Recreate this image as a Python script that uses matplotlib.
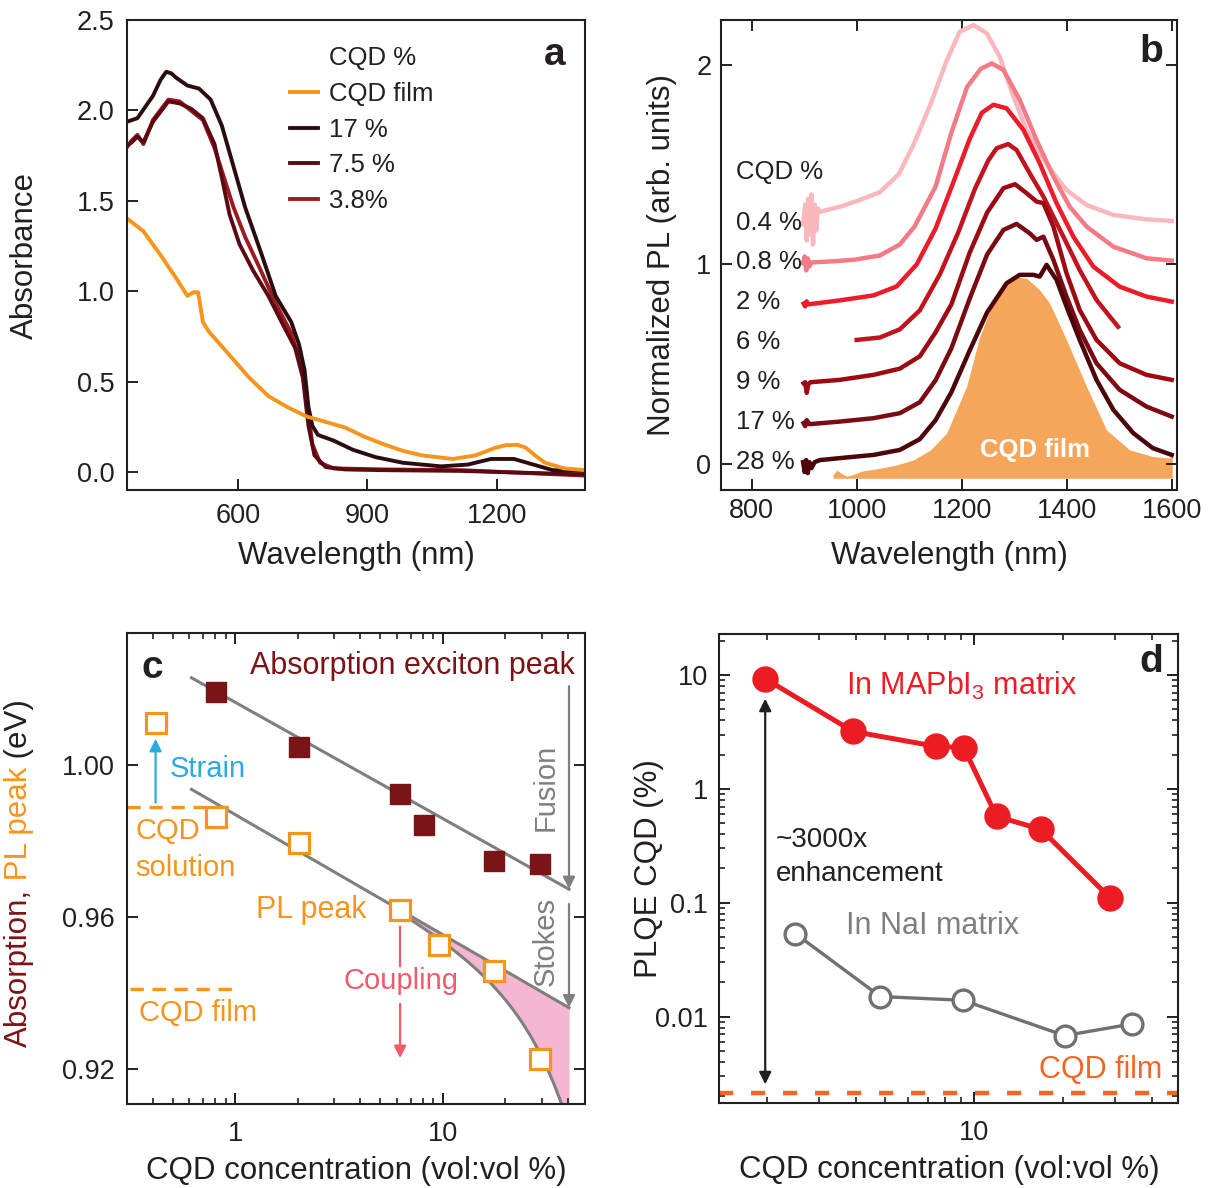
import numpy as np
import matplotlib.pyplot as plt
from matplotlib.lines import Line2D
from matplotlib.ticker import LogLocator, NullFormatter

plt.rcParams['font.family'] = ['Liberation Sans', 'DejaVu Sans']
plt.rcParams['mathtext.default'] = 'regular'

INK = '#231f20'
ORANGE = '#f7941d'
MAROON = '#7b1416'

# ---------------- (a) absorbance spectra ----------------
a_film_wl = [341, 380, 420, 455, 482, 496, 507, 518, 531, 580, 625, 670, 714, 759, 803, 848, 893,
             937, 982, 1026, 1098, 1151, 1196, 1220, 1248, 1267, 1290, 1312, 1356, 1405]
a_film = [1.404, 1.332, 1.199, 1.076, 0.974, 0.994, 0.994, 0.83, 0.779, 0.646, 0.523, 0.42, 0.359,
          0.307, 0.277, 0.246, 0.195, 0.154, 0.117, 0.092, 0.072, 0.092, 0.133, 0.148, 0.15, 0.135,
          0.09, 0.051, 0.020, 0.010]
a_17_wl = [341, 366, 402, 420, 433, 445, 455, 482, 509, 536, 562, 589, 616, 652, 687, 723, 741, 754,
           763, 772, 785, 821, 866, 919, 982, 1071, 1133, 1187, 1240, 1285, 1330, 1405]
a_17 = [1.937, 1.957, 2.08, 2.17, 2.214, 2.205, 2.183, 2.138, 2.121, 2.06, 1.916, 1.691, 1.465, 1.22,
        0.974, 0.83, 0.707, 0.564, 0.359, 0.256, 0.205, 0.174, 0.123, 0.082, 0.051, 0.031, 0.041,
        0.072, 0.072, 0.041, 0.010, 0.006]
a_75_wl = [341, 353, 366, 380, 402, 438, 464, 491, 518, 545, 562, 580, 603, 634, 670, 705, 732, 750,
           763, 777, 803, 848, 937, 1116, 1405]
a_75 = [1.804, 1.824, 1.855, 1.824, 1.937, 2.05, 2.039, 2.009, 1.957, 1.814, 1.629, 1.424, 1.26,
        1.117, 0.974, 0.81, 0.687, 0.523, 0.256, 0.092, 0.027, 0.014, 0.010, 0.006, -0.014]
a_38_wl = [341, 353, 366, 380, 402, 438, 464, 491, 518, 545, 567, 589, 616, 652, 687, 723, 745, 759,
           772, 790, 821, 937, 1116, 1405]
a_38 = [1.794, 1.834, 1.865, 1.814, 1.947, 2.06, 2.05, 1.998, 1.947, 1.793, 1.629, 1.465, 1.301,
        1.117, 0.933, 0.769, 0.605, 0.40, 0.154, 0.051, 0.020, 0.014, 0.010, -0.020]

# ---------------- (b) stacked PL spectra ----------------
b_labels = ['0.4 %', '0.8 %', '2 %', '6 %', '9 %', '17 %', '28 %']
b_offsets = [1.2, 1.0, 0.8, 0.6, 0.4, 0.2, 0.0]
b_colors = ['#f9b8bd', '#f27b86', '#ec1c2a', '#c0141f', '#9c0a14', '#7c0a12', '#4c0508']

pl_04_wl = [898, 902, 905, 908, 911, 914, 917, 920, 923, 926, 930, 968, 1006, 1044, 1080, 1108,
            1140, 1171, 1196, 1222, 1247, 1272, 1298, 1323, 1348, 1374, 1399, 1437, 1488, 1551, 1599]
pl_04 = [1.20, 1.30, 1.12, 1.33, 1.15, 1.35, 1.10, 1.30, 1.17, 1.28, 1.264, 1.289, 1.323, 1.362,
         1.452, 1.60, 1.80, 2.02, 2.166, 2.199, 2.158, 2.04, 1.84, 1.674, 1.557, 1.457, 1.373,
         1.298, 1.248, 1.226, 1.218]
pl_08_wl = [898, 901, 904, 907, 910, 914, 943, 994, 1044, 1082, 1110, 1150, 1180, 1210, 1236, 1257,
            1279, 1310, 1342, 1374, 1405, 1437, 1488, 1551, 1599]
pl_08 = [1.006, 1.04, 0.97, 1.03, 0.99, 1.01, 1.014, 1.023, 1.045, 1.10, 1.19, 1.39, 1.66, 1.89,
         1.98, 2.007, 1.974, 1.824, 1.623, 1.44, 1.289, 1.19, 1.089, 1.031, 1.019]
pl_2_wl = [899, 902, 905, 908, 968, 1032, 1076, 1114, 1150, 1185, 1215, 1238, 1260, 1285, 1317,
           1348, 1380, 1412, 1450, 1500, 1551, 1599]
pl_2 = [0.804, 0.79, 0.815, 0.80, 0.82, 0.845, 0.89, 1.0, 1.18, 1.42, 1.63, 1.76, 1.80, 1.782,
        1.674, 1.507, 1.307, 1.139, 0.989, 0.889, 0.839, 0.814]
pl_6_wl = [1000, 1044, 1082, 1120, 1158, 1193, 1225, 1250, 1266, 1288, 1304, 1329, 1355, 1393,
           1424, 1456, 1497]
pl_6 = [0.622, 0.634, 0.675, 0.77, 0.95, 1.16, 1.38, 1.52, 1.582, 1.603, 1.573, 1.457, 1.34, 1.139,
        0.972, 0.822, 0.688]
pl_9_wl = [899, 902, 905, 908, 912, 968, 1032, 1082, 1120, 1150, 1180, 1215, 1248, 1279, 1301,
           1323, 1342, 1355, 1374, 1399, 1424, 1456, 1500, 1551, 1599]
pl_9 = [0.405, 0.41, 0.357, 0.40, 0.41, 0.422, 0.447, 0.478, 0.54, 0.66, 0.80, 1.06, 1.26, 1.382,
        1.402, 1.357, 1.315, 1.307, 1.19, 0.956, 0.772, 0.622, 0.505, 0.447, 0.422]
pl_17_wl = [899, 902, 905, 910, 968, 1032, 1082, 1120, 1150, 1180, 1215, 1248, 1279, 1304, 1329,
            1342, 1355, 1374, 1399, 1424, 1456, 1500, 1551, 1599]
pl_17 = [0.205, 0.19, 0.22, 0.20, 0.213, 0.23, 0.255, 0.31, 0.42, 0.58, 0.83, 1.05, 1.173, 1.203,
         1.156, 1.123, 1.139, 1.023, 0.839, 0.672, 0.505, 0.372, 0.288, 0.238]
pl_28_wl = [898, 901, 904, 907, 910, 914, 920, 930, 968, 1032, 1082, 1120, 1150, 1180, 1215, 1248,
            1285, 1310, 1336, 1348, 1361, 1380, 1399, 1424, 1456, 1488, 1526, 1563, 1599]
pl_28 = [0.01, -0.04, 0.02, -0.045, 0.01, -0.02, 0.01, 0.02, 0.03, 0.046, 0.071, 0.125, 0.22, 0.36,
         0.57, 0.76, 0.906, 0.948, 0.948, 0.939, 0.998, 0.923, 0.789, 0.622, 0.422, 0.272, 0.155,
         0.08, 0.046]
b_series = [(pl_04_wl, pl_04), (pl_08_wl, pl_08), (pl_2_wl, pl_2), (pl_6_wl, pl_6),
            (pl_9_wl, pl_9), (pl_17_wl, pl_17), (pl_28_wl, pl_28)]

film_wl = [955, 962, 970, 980, 990, 1010, 1044, 1075, 1108, 1140, 1171, 1209, 1234, 1266, 1298,
           1323, 1348, 1367, 1399, 1437, 1475, 1519, 1563, 1595, 1600]
film_pl = [-0.054, -0.03, -0.045, -0.06, -0.055, -0.035, -0.021, -0.005, 0.021, 0.07, 0.155, 0.389,
           0.639, 0.856, 0.939, 0.931, 0.872, 0.806, 0.622, 0.389, 0.171, 0.071, 0.038, 0.03, 0.06]
film_base = -0.071

# ---------------- (c) peak energies ----------------
conc_abs = [0.81, 2.02, 6.22, 8.09, 17.7, 29.3]
e_abs = [1.0193, 1.0047, 0.9924, 0.9841, 0.9747, 0.9740]
conc_pl = [0.412, 0.81, 2.02, 6.22, 9.59, 17.7, 29.3]
e_pl = [1.0111, 0.9863, 0.9794, 0.9619, 0.9525, 0.9457, 0.9226]
abs_fit = (1.0165, -0.0306)      # E = a + b*log10(c)
pl_fit = (0.9869, -0.0316)
coupling_k = 1.9e-5              # extra red shift ~ k*c^2
fit_range = (0.614, 40.6)
e_solution = 0.9889
e_film = 0.9409

# ---------------- (d) PLQE ----------------
conc_mapi = [1.97, 3.9, 7.46, 9.22, 11.9, 16.8, 28.8]
plqe_mapi = [9.3, 3.2, 2.36, 2.31, 0.574, 0.442, 0.110]
conc_nai = [2.49, 4.82, 9.17, 20.2, 34.0]
plqe_nai = [0.0536, 0.0150, 0.0139, 0.0068, 0.0086]
plqe_film = 0.00213

fig = plt.figure(figsize=(12.11, 11.88), dpi=100)
ax_a = fig.add_axes([0.1049, 0.5875, 0.3782, 0.3956])
ax_b = fig.add_axes([0.5954, 0.5875, 0.3765, 0.3956])
ax_c = fig.add_axes([0.1049, 0.0707, 0.3785, 0.3965])
ax_d = fig.add_axes([0.5940, 0.0713, 0.3790, 0.3950])

for ax in (ax_a, ax_b, ax_c, ax_d):
    for sp in ax.spines.values():
        sp.set_linewidth(1.5)
        sp.set_color(INK)
    ax.tick_params(which='major', direction='in', length=8, width=1.4, labelsize=19.5,
                   colors=INK, pad=9)
    ax.tick_params(which='minor', direction='in', length=4.5, width=1.2, colors=INK)

# ---- a ----
ax_a.plot(a_38_wl, a_38, color='#9b1b20', lw=2.8, label='3.8%')
ax_a.plot(a_75_wl, a_75, color='#5c0a12', lw=2.8, label='7.5 %')
ax_a.plot(a_17_wl, a_17, color='#2b0c0f', lw=2.8, label='17 %')
ax_a.plot(a_film_wl, a_film, color=ORANGE, lw=2.8, label='CQD film')
ax_a.set_xlim(342, 1405)
ax_a.set_ylim(-0.1, 2.5)
ax_a.set_xticks([600, 900, 1200])
ax_a.set_yticks(np.arange(0, 2.51, 0.5))
ax_a.yaxis.set_major_formatter(plt.FormatStrFormatter('%.1f'))
ax_a.set_xlabel('Wavelength (nm)', fontsize=22.5, color=INK)
ax_a.set_ylabel('Absorbance', fontsize=22.5, color=INK)
ax_a.xaxis.set_label_coords(0.5, -0.14)
ax_a.yaxis.set_label_coords(-0.223, 0.5)
hl = {l.get_label(): l for l in ax_a.get_lines()}
handles = [Line2D([], [], color='none')] + [hl[k] for k in ['CQD film', '17 %', '7.5 %', '3.8%']]
labels = ['CQD %', 'CQD film', '17 %', '7.5 %', '3.8%']
ax_a.legend(handles, labels, loc='upper left', bbox_to_anchor=(0.355, 0.944), frameon=False,
            fontsize=18.5, handlelength=1.1, handletextpad=0.45, labelspacing=0.45,
            borderpad=0, borderaxespad=0, labelcolor=INK)
ax_a.text(0.934, 0.926, 'a', transform=ax_a.transAxes, fontsize=28, fontweight='bold',
          ha='center', va='center', color=INK)

# ---- b ----
ax_b.fill_between(film_wl, film_base, film_pl, color='#f5a65b', lw=0, zorder=1)
for (wl, pl), col in zip(b_series, b_colors):
    ax_b.plot(wl, pl, color=col, lw=3.2, zorder=2, solid_joinstyle='round')
for lab, off in zip(b_labels, b_offsets):
    ax_b.text(770, off + 0.01, lab, fontsize=18.5, color=INK, ha='left', va='center')
ax_b.text(770, 1.462, 'CQD %', fontsize=18.5, color=INK, ha='left', va='center')
ax_b.text(1339, 0.07, 'CQD film', fontsize=18.5, fontweight='bold', color='white',
          ha='center', va='center', zorder=3)
ax_b.set_xlim(742, 1609)
ax_b.set_ylim(-0.13, 2.224)
ax_b.set_xticks([800, 1000, 1200, 1400, 1600])
ax_b.set_yticks([0, 1, 2])
ax_b.tick_params(which='both', top=True, right=True)
ax_b.tick_params(axis='x', pad=6)
ax_b.tick_params(axis='y', pad=7)
ax_b.set_xlabel('Wavelength (nm)', fontsize=22.5, color=INK)
ax_b.set_ylabel('Normalized PL (arb. units)', fontsize=22.5, color=INK)
ax_b.xaxis.set_label_coords(0.5, -0.14)
ax_b.yaxis.set_label_coords(-0.129, 0.5)
ax_b.text(0.944, 0.932, 'b', transform=ax_b.transAxes, fontsize=28, fontweight='bold',
          ha='center', va='center', color=INK)

# ---- c ----
cx = np.logspace(np.log10(fit_range[0]), np.log10(fit_range[1]), 300)
abs_line = abs_fit[0] + abs_fit[1] * np.log10(cx)
pl_line = pl_fit[0] + pl_fit[1] * np.log10(cx)
pl_coupled = pl_line - coupling_k * cx ** 2
grey = '#7f7f7f'
ax_c.plot(cx, abs_line, color=grey, lw=2.2, zorder=2)
ax_c.plot(cx, pl_line, color=grey, lw=2.2, zorder=2)
sel = cx >= 6
ax_c.plot(cx[sel], pl_coupled[sel], color=grey, lw=2.2, zorder=2)
ax_c.fill_between(cx[sel], pl_coupled[sel], pl_line[sel], color='#f4b6d2', lw=0, zorder=1)
ax_c.plot([0.3, 1.0], [e_solution, e_solution], color=ORANGE, lw=2.4, dashes=(4, 2.6))
ax_c.plot([0.31, 1.0], [e_film, e_film], color=ORANGE, lw=2.4, dashes=(4, 2.6))
ax_c.plot(conc_abs, e_abs, 's', ms=15, color=MAROON, mec=MAROON, zorder=4)
ax_c.plot(conc_pl, e_pl, 's', ms=14, mfc='white', mec=ORANGE, mew=2.3, zorder=4)

arr = dict(arrowstyle='-|>', lw=1.6, mutation_scale=18, shrinkA=0, shrinkB=0)
ax_c.annotate('', xy=(0.412, 1.0069), xytext=(0.412, 0.9901),
              arrowprops=dict(arr, color='#29abe2'))
ax_c.annotate('', xy=(40.6, 0.9673), xytext=(40.6, 1.0208), arrowprops=dict(arr, color=grey))
ax_c.annotate('', xy=(40.6, 0.9361), xytext=(40.6, 0.9634), arrowprops=dict(arr, color=grey))
ax_c.plot([6.22, 6.22], [0.9574, 0.9470], color='#ef5b6b', lw=1.6)
ax_c.annotate('', xy=(6.22, 0.9228), xytext=(6.22, 0.9371),
              arrowprops=dict(arr, color='#ef5b6b'))

ax_c.text(0.48, 0.999, 'Strain', color='#29abe2', fontsize=21, ha='left', va='center')
ax_c.text(31.4, 0.994, 'Fusion', color=grey, fontsize=21, rotation=90, ha='center', va='center')
ax_c.text(31.4, 0.9535, 'Stokes', color=grey, fontsize=21, rotation=90, ha='center', va='center')
ax_c.text(6.3, 0.943, 'Coupling', color='#ef5b6b', fontsize=21, ha='center', va='center')
ax_c.text(4.28, 0.9619, 'PL peak', color=ORANGE, fontsize=22, ha='right', va='center')
ax_c.text(43.2, 1.0262, 'Absorption exciton peak', color=MAROON, fontsize=22, ha='right',
          va='center')
ax_c.text(0.329, 0.9827, 'CQD', color=ORANGE, fontsize=21, ha='left', va='center')
ax_c.text(0.329, 0.9728, 'solution', color=ORANGE, fontsize=21, ha='left', va='center')
ax_c.text(0.344, 0.9347, 'CQD film', color=ORANGE, fontsize=21, ha='left', va='center')
ax_c.text(0.0557, 0.9265, 'c', transform=ax_c.transAxes, fontsize=28, fontweight='bold',
          ha='center', va='center', color=INK)

ax_c.set_xscale('log')
ax_c.set_xlim(0.3, 48.7)
ax_c.set_ylim(0.9107, 1.0348)
ax_c.set_xticks([1, 10])
ax_c.set_xticklabels(['1', '10'])
ax_c.xaxis.set_minor_locator(LogLocator(base=10, subs=np.arange(2, 10)))
ax_c.xaxis.set_minor_formatter(NullFormatter())
ax_c.set_yticks([0.92, 0.96, 1.00])
ax_c.set_yticklabels(['0.92', '0.96', '1.00'])
ax_c.tick_params(which='both', top=True, right=True)
ax_c.tick_params(axis='x', pad=12)
ax_c.tick_params(axis='y', pad=9)
ax_c.set_xlabel('CQD concentration (vol:vol %)', fontsize=22.5, color=INK)
ax_c.xaxis.set_label_coords(0.5, -0.142)

# y label in three colours, stacked bottom to top
t = ax_c.text(-0.236, 0.121, 'Absorption,', transform=ax_c.transAxes, rotation=90,
              fontsize=22.5, color=MAROON, ha='center', va='bottom')
t = ax_c.annotate(' PL peak', xycoords=t, xy=(0, 1), rotation=90, fontsize=22.5, color=ORANGE,
                  ha='left', va='bottom')
ax_c.annotate(' (eV)', xycoords=t, xy=(0, 1), rotation=90, fontsize=22.5, color=INK,
              ha='left', va='bottom')

# ---- d ----
ax_d.plot(conc_nai, plqe_nai, '-o', color='#707070', lw=2.4, ms=15, mfc='white', mew=2.4, zorder=3)
ax_d.plot(conc_mapi, plqe_mapi, '-o', color='#ec1c24', lw=3.6, ms=18, zorder=4)
ax_d.axhline(plqe_film, color='#f26522', lw=3.2, dashes=(3.2, 4.0))
ax_d.annotate('', xy=(1.97, 0.00254), xytext=(1.97, 6.2),
              arrowprops=dict(arrowstyle='<|-|>', lw=1.6, color=INK, mutation_scale=18,
                              shrinkA=0, shrinkB=0))
ax_d.text(2.14, 0.358, '~3000x', fontsize=20, color=INK, ha='left', va='center')
ax_d.text(2.14, 0.180, 'enhancement', fontsize=20, color=INK, ha='left', va='center')
ax_d.text(3.69, 8.1, 'In MAPbI$_3$ matrix', fontsize=22, color='#ec1c24', ha='left', va='center')
ax_d.text(3.69, 0.063, 'In NaI matrix', fontsize=22, color='#7f7f7f', ha='left', va='center')
ax_d.text(43.2, 0.0034, 'CQD film', fontsize=22, color='#f26522', ha='right', va='center')
ax_d.text(0.942, 0.940, 'd', transform=ax_d.transAxes, fontsize=28, fontweight='bold',
          ha='center', va='center', color=INK)

ax_d.set_xscale('log')
ax_d.set_yscale('log')
ax_d.set_xlim(1.379, 48.9)
ax_d.set_ylim(0.00173, 22.96)
ax_d.set_xticks([10])
ax_d.set_xticklabels(['10'])
ax_d.xaxis.set_minor_locator(LogLocator(base=10, subs=np.arange(2, 10)))
ax_d.xaxis.set_minor_formatter(NullFormatter())
ax_d.set_yticks([0.01, 0.1, 1, 10])
ax_d.set_yticklabels(['0.01', '0.1', '1', '10'])
ax_d.yaxis.set_minor_locator(LogLocator(base=10, subs=np.arange(2, 10)))
ax_d.yaxis.set_minor_formatter(NullFormatter())
ax_d.tick_params(which='both', top=True, right=True)
ax_d.tick_params(axis='x', pad=12)
ax_d.tick_params(axis='y', pad=8)
ax_d.set_xlabel('CQD concentration (vol:vol %)', fontsize=22.5, color=INK)
ax_d.set_ylabel('PLQE CQD (%)', fontsize=22.5, color=INK)
ax_d.xaxis.set_label_coords(0.5, -0.142)
ax_d.yaxis.set_label_coords(-0.1536, 0.5)

for ax in (ax_a, ax_b, ax_c, ax_d):
    ax.xaxis.label.set_va('center')
    ax.yaxis.label.set_va('center')

fig.savefig('out.png', dpi=100)
